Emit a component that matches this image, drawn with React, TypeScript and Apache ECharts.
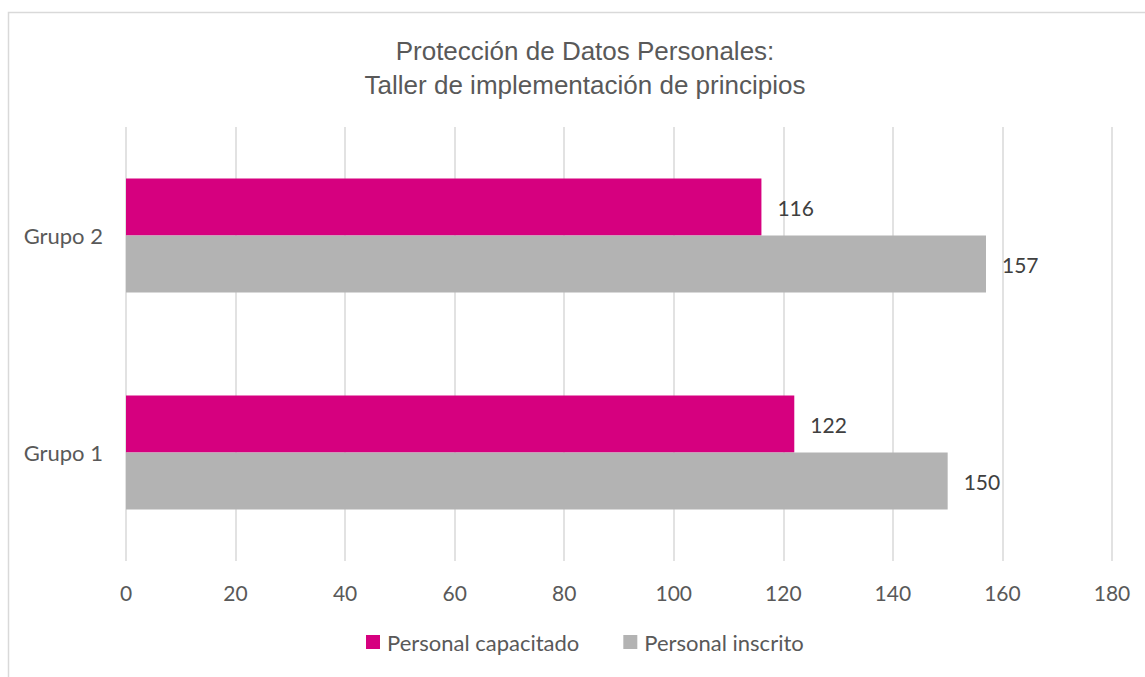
import React, { useEffect, useRef } from "react";
import * as echarts from "echarts";

const categories = ["Grupo 1", "Grupo 2"];
const capacitado = [122, 116];
const inscrito = [150, 157];
const xTicks = { min: 0, max: 180, interval: 20 };

export default function App() {
  const ref = useRef<HTMLDivElement>(null);
  useEffect(() => {
    const chart = echarts.init(ref.current!, null, { renderer: "svg" });
    const font = "Lato, 'Open Sans', sans-serif";
    const label = {
      show: true,
      position: "right",
      distance: 16,
      fontFamily: font,
      fontSize: 21,
      color: "#404040",
    };
    chart.setOption({
      animation: false,
      backgroundColor: "#ffffff",
      title: {
        text: "Protección de Datos Personales:\nTaller de implementación de principios",
        left: 580,
        textAlign: "center",
        top: 29,
        textStyle: {
          fontFamily: "'Liberation Sans', Arial, sans-serif",
          fontWeight: "normal",
          fontSize: 26,
          lineHeight: 34,
          color: "#595959",
        },
      },
      graphic: [
        {
          type: "rect",
          shape: { x: 8.5, y: 12.5, width: 1300, height: 800 },
          style: { fill: "none", stroke: "#d9d9d9", lineWidth: 1.5 },
          silent: true,
          z: -1,
        },
      ],
      legend: {
        data: ["Personal capacitado", "Personal inscrito"],
        bottom: 19,
        left: 361,
        itemWidth: 14,
        itemHeight: 14,
        itemGap: 44,
        icon: "rect",
        textStyle: { fontFamily: font, fontSize: 22, color: "#595959", padding: [0, 0, 0, 2] },
      },
      grid: { left: 126, right: 33, top: 127, bottom: 116 },
      xAxis: {
        type: "value",
        min: xTicks.min,
        max: xTicks.max,
        interval: xTicks.interval,
        axisLine: { show: false },
        axisTick: { show: false },
        splitLine: { show: true, lineStyle: { color: "#d9d9d9", width: 1.5 } },
        axisLabel: { fontFamily: font, fontSize: 21, color: "#595959", margin: 21 },
      },
      yAxis: {
        type: "category",
        data: categories,
        axisLine: { show: false },
        axisTick: { show: false },
        axisLabel: { fontFamily: font, fontSize: 22, color: "#595959", margin: 23 },
      },
      series: [
        {
          name: "Personal capacitado",
          type: "bar",
          data: capacitado,
          barWidth: 57,
          barGap: "0%",
          itemStyle: { color: "#d6007f" },
          label,
        },
        {
          name: "Personal inscrito",
          type: "bar",
          data: inscrito,
          barWidth: 57,
          barGap: "0%",
          itemStyle: { color: "#b3b3b3" },
          label,
        },
      ],
    });
    return () => chart.dispose();
  }, []);
  return (
    <div
      ref={ref}
      style={{ position: "absolute", left: 0, top: 0, width: 1145, height: 677 }}
    />
  );
}
